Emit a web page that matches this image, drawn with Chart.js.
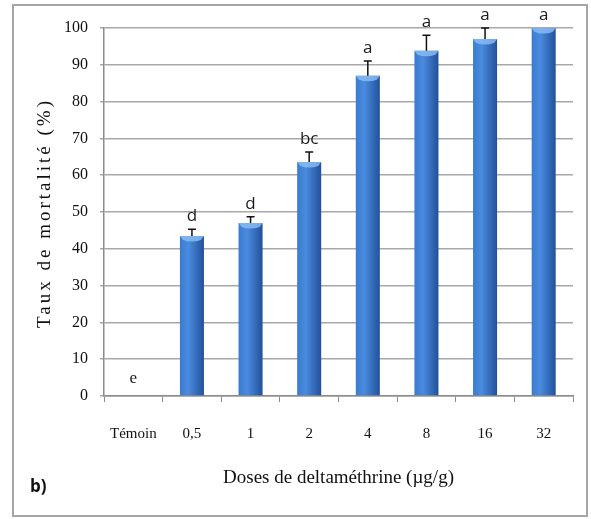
<!DOCTYPE html>
<html>
<head>
<meta charset="utf-8">
<script src="https://cdn.jsdelivr.net/npm/chart.js@4"></script>
<style>
  html, body { margin: 0; padding: 0; background: #fff; }
  #wrap { position: relative; width: 591px; height: 519px; }
  #frame { position: absolute; left: 12px; top: 4px; width: 576px; height: 513px; border: 2px solid #a6a6a6; box-sizing: border-box; pointer-events: none; }
</style>
</head>
<body>
<div id="wrap">
  <canvas id="c" width="591" height="519"></canvas>
  <div id="frame"></div>
</div>
<script>
  const doses = ["Témoin", "0,5", "1", "2", "4", "8", "16", "32"];
  const mortality = [0, 43.5, 47, 63.6, 87, 93.8, 97, 100];
  const errors = [0, 1.8, 1.7, 2.7, 4, 4.2, 3, 0];
  const letters = ["e", "d", "d", "bc", "a", "a", "a", "a"];
  const yTicks = [0, 10, 20, 30, 40, 50, 60, 70, 80, 90, 100];
  const yTitle = "Taux de mortalité (%)";

  const serif = "'Liberation Serif', 'DejaVu Serif', serif";
  const sans = "'Open Sans', 'Noto Sans', sans-serif";

  // horizontal gradient on each bar + error bars + letters
  const barDecor = {
    id: "barDecor",
    beforeDatasetsDraw(chart) {
      const ctx = chart.ctx;
      chart.getDatasetMeta(0).data.forEach((bar) => {
        const half = bar.width / 2;
        const g = ctx.createLinearGradient(bar.x - half, 0, bar.x + half, 0);
        g.addColorStop(0, "#3b7bcd");
        g.addColorStop(0.35, "#4a8be0");
        g.addColorStop(1, "#22519a");
        // options are shared between bars, so give each its own copy
        bar.options = Object.assign({}, bar.options, { backgroundColor: g });
      });
    },
    afterDatasetsDraw(chart) {
      const ctx = chart.ctx;
      const y = chart.scales.y;
      const meta = chart.getDatasetMeta(0);
      ctx.save();
      meta.data.forEach((bar, i) => {
        const v = mortality[i];
        const e = errors[i];
        const top = y.getPixelForValue(Math.min(v + e, 100));
        // light cap on the top of the bar
        if (v > 0) {
          const half = bar.width / 2;
          ctx.fillStyle = "rgba(140,190,245,0.8)";
          ctx.beginPath();
          ctx.moveTo(bar.x - half, bar.y);
          ctx.lineTo(bar.x + half, bar.y);
          ctx.lineTo(bar.x + half - 3, bar.y + 4);
          ctx.quadraticCurveTo(bar.x, bar.y + 7, bar.x - half + 3, bar.y + 4);
          ctx.closePath();
          ctx.fill();
        }
        if (e > 0) {
          ctx.strokeStyle = "#111";
          ctx.lineWidth = 1.5;
          ctx.beginPath();
          ctx.moveTo(bar.x, bar.y);
          ctx.lineTo(bar.x, top);
          ctx.moveTo(bar.x - 4, top);
          ctx.lineTo(bar.x + 4, top);
          ctx.stroke();
        }
        ctx.fillStyle = "#1a1a1a";
        ctx.font = "17px " + (v === 0 ? serif : sans);
        ctx.textAlign = "center";
        ctx.textBaseline = "alphabetic";
        ctx.fillText(letters[i], bar.x, top - (v === 0 ? 13 : 8));
      });

      // y axis title, spaced out like the original
      ctx.save();
      ctx.translate(45, (y.top + y.bottom) / 2 + 1);
      ctx.rotate(-Math.PI / 2);
      ctx.font = "19px " + serif;
      ctx.letterSpacing = "3px";
      ctx.textAlign = "center";
      ctx.textBaseline = "middle";
      ctx.fillStyle = "#111";
      ctx.fillText(yTitle, 0, 0);
      ctx.restore();

      ctx.font = "bold 17px " + sans;
      ctx.textAlign = "left";
      ctx.textBaseline = "middle";
      ctx.fillStyle = "#111";
      ctx.fillText("b)", 30, 487);
      ctx.restore();
    }
  };

  new Chart(document.getElementById("c"), {
    type: "bar",
    data: {
      labels: doses,
      datasets: [{
        data: mortality,
        backgroundColor: "#3a78c9",
        borderWidth: 0,
        barPercentage: 0.41,
        categoryPercentage: 1
      }]
    },
    options: {
      responsive: false,
      animation: false,
      layout: { padding: { left: 35, right: 18, top: 28, bottom: 0 } },
      plugins: { legend: { display: false }, tooltip: { enabled: false } },
      scales: {
        x: {
          afterFit(scale) { scale.height = 519 - 396; },
          grid: { display: true, drawOnChartArea: false, tickLength: 6, color: "#8c8c8c", offset: true },
          border: { color: "#8c8c8c", width: 1.5 },
          ticks: { color: "#111", padding: 23, font: { family: serif, size: 15 } },
          title: { display: true, text: "Doses de deltaméthrine (µg/g)", color: "#111", padding: { top: 0, bottom: 30 }, font: { family: serif, size: 19 } }
        },
        y: {
          min: 0,
          max: 100,
          afterBuildTicks(scale) { scale.ticks = yTicks.map((v) => ({ value: v })); },
          afterFit(scale) { scale.width = 104 - 35; },
          grid: { color: "#a8a8a8", lineWidth: 1.5, tickLength: 4 },
          border: { color: "#8c8c8c", width: 1.5 },
          ticks: { color: "#111", padding: 12, font: { family: serif, size: 16 } }
        }
      }
    },
    plugins: [barDecor]
  });
</script>
</body>
</html>
